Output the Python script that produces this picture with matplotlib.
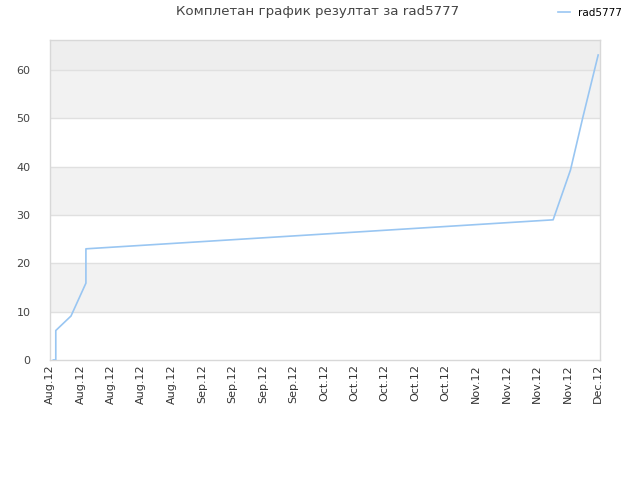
import matplotlib
matplotlib.use("Agg")
import matplotlib.pyplot as plt

# data (x in tick-index units, y = result)
x_vals = [0.11, 0.19, 0.19, 0.69, 1.18, 1.18, 16.53, 17.10, 17.51, 18.01]
y_vals = [0.0, 0.0, 6.1, 9.1, 15.9, 23.0, 29.0, 39.3, 50.3, 63.1]
tick_labels = ["Aug.12"] * 5 + ["Sep.12"] * 4 + ["Oct.12"] * 5 + ["Nov.12"] * 4 + ["Dec.12"]
series_name = "rad5777"
title = "Комплетан график резултат за rad5777"

fig = plt.figure(figsize=(6.4, 4.8), dpi=100)
ax = fig.add_axes([50/640, 1-360/480, 550/640, 320/480])

ymax = 66.2
ax.set_ylim(0, ymax)
ax.set_xlim(0, 18.07)

# bands
ax.axhspan(10, 20, color="#f2f2f2", zorder=0, lw=0)
ax.axhspan(30, 40, color="#f2f2f2", zorder=0, lw=0)
ax.axhspan(50, 60, color="#f2f2f2", zorder=0, lw=0)
ax.axhspan(60, ymax, color="#eeeeee", zorder=0, lw=0)
for yv in [10, 20, 30, 40, 50, 60]:
    ax.axhline(yv, color="#e0e0e0", lw=1, zorder=1)

ax.plot(x_vals, y_vals, color="#99c6f2", lw=1.2, zorder=3, label=series_name)

ax.set_yticks([0, 10, 20, 30, 40, 50, 60])
ax.set_xticks(list(range(len(tick_labels))))
ax.set_xticklabels(tick_labels, rotation=90, fontsize=8, color="#333333")
ax.tick_params(axis="y", labelsize=8, labelcolor="#444444", length=0, pad=14)
ax.tick_params(axis="x", length=0, pad=3)
for lbl in ax.get_yticklabels():
    lbl.set_horizontalalignment("right")

for sp in ax.spines.values():
    sp.set_color("#d8d8d8")
    sp.set_linewidth(1)

fig.text(318/640, 1-12/480, title, ha="center", va="center", fontsize=9.6, color="#444444")

leg = fig.legend(loc="center", bbox_to_anchor=(590/640, 1-13/480), frameon=False,
                 fontsize=7.5, handlelength=1.2, handletextpad=0.8)

fig.savefig("out.png", dpi=100, facecolor="white")
